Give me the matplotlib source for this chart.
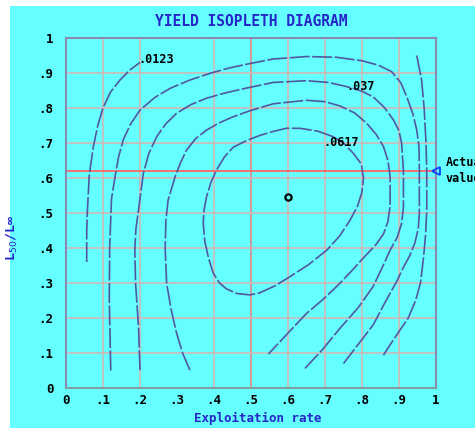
import matplotlib
matplotlib.use("Agg")
import matplotlib.pyplot as plt
from matplotlib.patches import Rectangle

# ---- data ----
c0123_left_x = [0.056, 0.056, 0.058, 0.063, 0.074, 0.086, 0.100, 0.120, 0.146, 0.172, 0.200]
c0123_left_y = [0.36, 0.45, 0.51, 0.61, 0.69, 0.75, 0.80, 0.845, 0.88, 0.908, 0.93]
c0123_right_x = [0.948, 0.961, 0.968, 0.973, 0.975, 0.975, 0.972, 0.966, 0.958, 0.945,
                 0.925, 0.903, 0.880, 0.858]
c0123_right_y = [0.95, 0.88, 0.80, 0.70, 0.62, 0.51, 0.44, 0.37, 0.30, 0.25,
                 0.20, 0.166, 0.13, 0.094]

c0247_x = [0.121, 0.117, 0.118, 0.123, 0.132, 0.142, 0.155, 0.175, 0.200, 0.240, 0.281,
           0.335, 0.389, 0.440, 0.497, 0.560, 0.650, 0.730, 0.800, 0.845, 0.880, 0.905,
           0.921, 0.937, 0.948, 0.954, 0.955, 0.955, 0.952, 0.943, 0.930, 0.912, 0.894,
           0.860, 0.830, 0.790, 0.750]
c0247_y = [0.05, 0.25, 0.40, 0.54, 0.60, 0.66, 0.71, 0.755, 0.794, 0.830, 0.856,
           0.880, 0.899, 0.914, 0.927, 0.940, 0.947, 0.945, 0.935, 0.922, 0.904, 0.872,
           0.832, 0.785, 0.737, 0.690, 0.640, 0.500, 0.455, 0.415, 0.380, 0.345, 0.305,
           0.240, 0.180, 0.125, 0.070]

c037_x = [0.200, 0.196, 0.188, 0.186, 0.189, 0.196, 0.209, 0.224, 0.245, 0.270, 0.299,
          0.338, 0.380, 0.430, 0.484, 0.560, 0.650, 0.710, 0.759, 0.800, 0.830, 0.860,
          0.885, 0.900, 0.907, 0.912, 0.912, 0.907, 0.895, 0.876, 0.855, 0.830, 0.790,
          0.740, 0.695, 0.646]
c037_y = [0.051, 0.175, 0.300, 0.394, 0.455, 0.509, 0.613, 0.670, 0.718, 0.755, 0.785,
          0.810, 0.828, 0.843, 0.856, 0.873, 0.878, 0.873, 0.861, 0.848, 0.832, 0.802,
          0.766, 0.735, 0.700, 0.620, 0.518, 0.470, 0.430, 0.394, 0.345, 0.290, 0.230,
          0.170, 0.112, 0.056]

c0494_x = [0.335, 0.315, 0.299, 0.284, 0.272, 0.268, 0.270, 0.276, 0.295, 0.310, 0.326,
           0.350, 0.380, 0.415, 0.452, 0.497, 0.560, 0.650, 0.700, 0.740, 0.780, 0.813,
           0.838, 0.858, 0.870, 0.876, 0.876, 0.870, 0.858, 0.838, 0.804, 0.775, 0.740,
           0.700, 0.650, 0.600, 0.547]
c0494_y = [0.051, 0.100, 0.156, 0.225, 0.299, 0.400, 0.480, 0.537, 0.604, 0.645, 0.680,
           0.712, 0.737, 0.758, 0.775, 0.792, 0.812, 0.822, 0.818, 0.806, 0.786, 0.756,
           0.725, 0.690, 0.650, 0.604, 0.520, 0.475, 0.440, 0.410, 0.372, 0.338, 0.299,
           0.258, 0.213, 0.157, 0.097]

c0617_x = [0.722, 0.680, 0.632, 0.595, 0.560, 0.525, 0.490, 0.452, 0.428, 0.407, 0.392,
           0.380, 0.373, 0.371, 0.375, 0.385, 0.398, 0.415, 0.434, 0.462, 0.497, 0.524,
           0.565, 0.605, 0.655, 0.705, 0.740, 0.768, 0.788, 0.800, 0.804, 0.798, 0.777,
           0.752, 0.722]
c0617_y = [0.718, 0.734, 0.742, 0.742, 0.733, 0.722, 0.708, 0.688, 0.660, 0.623, 0.588,
           0.547, 0.508, 0.470, 0.420, 0.372, 0.328, 0.300, 0.283, 0.270, 0.266, 0.272,
           0.292, 0.318, 0.352, 0.394, 0.435, 0.480, 0.520, 0.560, 0.600, 0.640, 0.670,
           0.698, 0.718]

contour_labels = [".0123", ".037", ".0617"]
label_x = [0.195, 0.757, 0.695]
label_y = [0.939, 0.861, 0.700]

current_x = [0.6]
current_y = [0.545]
actual_value = 0.62

xticks = [0, .1, .2, .3, .4, .5, .6, .7, .8, .9, 1]
xticklabels = ["0", ".1", ".2", ".3", ".4", ".5", ".6", ".7", ".8", ".9", "1"]
yticks = [0, .1, .2, .3, .4, .5, .6, .7, .8, .9, 1]
yticklabels = ["0", ".1", ".2", ".3", ".4", ".5", ".6", ".7", ".8", ".9", "1"]
vgrid = [.1, .2, .4, .6, .7, .8, .9]
hgrid = [.1, .2, .3, .4, .5, .6, .7, .8, .9]

# ---- styling ----
CYAN = "#66ffff"
LINE = "#5058a0"
GRID = "#d0b8b8"
BLUE = "#2626c8"
MONO = "DejaVu Sans Mono"

fig = plt.figure(figsize=(4.75, 4.28), dpi=100, facecolor="white")
fig.patches.append(Rectangle((10 / 475, 0), 1, 1 - 6 / 428, transform=fig.transFigure,
                             facecolor=CYAN, edgecolor="none", zorder=-10))
ax = fig.add_axes([66 / 475, 1 - 388 / 428, 370 / 475, 350 / 428])
ax.set_facecolor(CYAN)
ax.set_xlim(0, 1)
ax.set_ylim(0, 1)

for gx in vgrid:
    ax.axvline(gx, color=GRID, lw=1.2, zorder=1)
ax.axvline(0.5, color="#d09898", lw=1.4, zorder=1)
for gy in hgrid:
    ax.axhline(gy, color=GRID, lw=1.2, zorder=1)
ax.axhline(actual_value, color="#ff6464", lw=1.3, zorder=1)

dash = (0, (12, 1.5))
for xs, ys in [(c0123_left_x, c0123_left_y), (c0123_right_x, c0123_right_y),
               (c0247_x, c0247_y), (c037_x, c037_y), (c0494_x, c0494_y),
               (c0617_x, c0617_y)]:
    ax.plot(xs, ys, color=LINE, lw=1.2, linestyle=dash, zorder=2)

for t, lx, ly in zip(contour_labels, label_x, label_y):
    ax.text(lx, ly, t, family=MONO, fontweight="bold", fontsize=8.5,
            ha="left", va="center", color="black", zorder=3)

ax.plot(current_x, current_y, marker="o", ms=4.5, mfc=CYAN, mec="black", mew=1.6,
        ls="none", zorder=4)

ax.plot([1.0], [actual_value], marker="<", ms=6, mfc="none", mec="#1040ff", mew=1.3,
        clip_on=False, zorder=5)
ax.text(1.027, actual_value, "Actual\nvalue", family=MONO, fontweight="bold",
        fontsize=8.5, ha="left", va="center", color="black", linespacing=1.3,
        clip_on=False)

for s in ax.spines.values():
    s.set_color("#8a8ab0")
    s.set_linewidth(1.5)
ax.spines["bottom"].set_color("#80a0a0")

ax.set_xticks(xticks)
ax.set_xticklabels(xticklabels, family=MONO, fontweight="bold", fontsize=9)
ax.set_yticks(yticks)
ax.set_yticklabels(yticklabels, family=MONO, fontweight="bold", fontsize=9)
ax.tick_params(length=0)
ax.tick_params(axis="x", pad=4)
ax.tick_params(axis="y", pad=9)

ax.set_xlabel("Exploitation rate", family=MONO, fontweight="bold", fontsize=9,
              color=BLUE)
ax.xaxis.set_label_coords(0.517, -0.068)
ax.set_ylabel("L$_{50}$/L∞", family=MONO, fontweight="bold", fontsize=9.5,
              color=BLUE)
ax.yaxis.set_label_coords(-0.125, 0.43)
ax.set_title("YIELD ISOPLETH DIAGRAM", family=MONO, fontweight="bold", fontsize=10.5,
             color=BLUE, pad=9)

fig.savefig("out.png", dpi=100, facecolor="white")
